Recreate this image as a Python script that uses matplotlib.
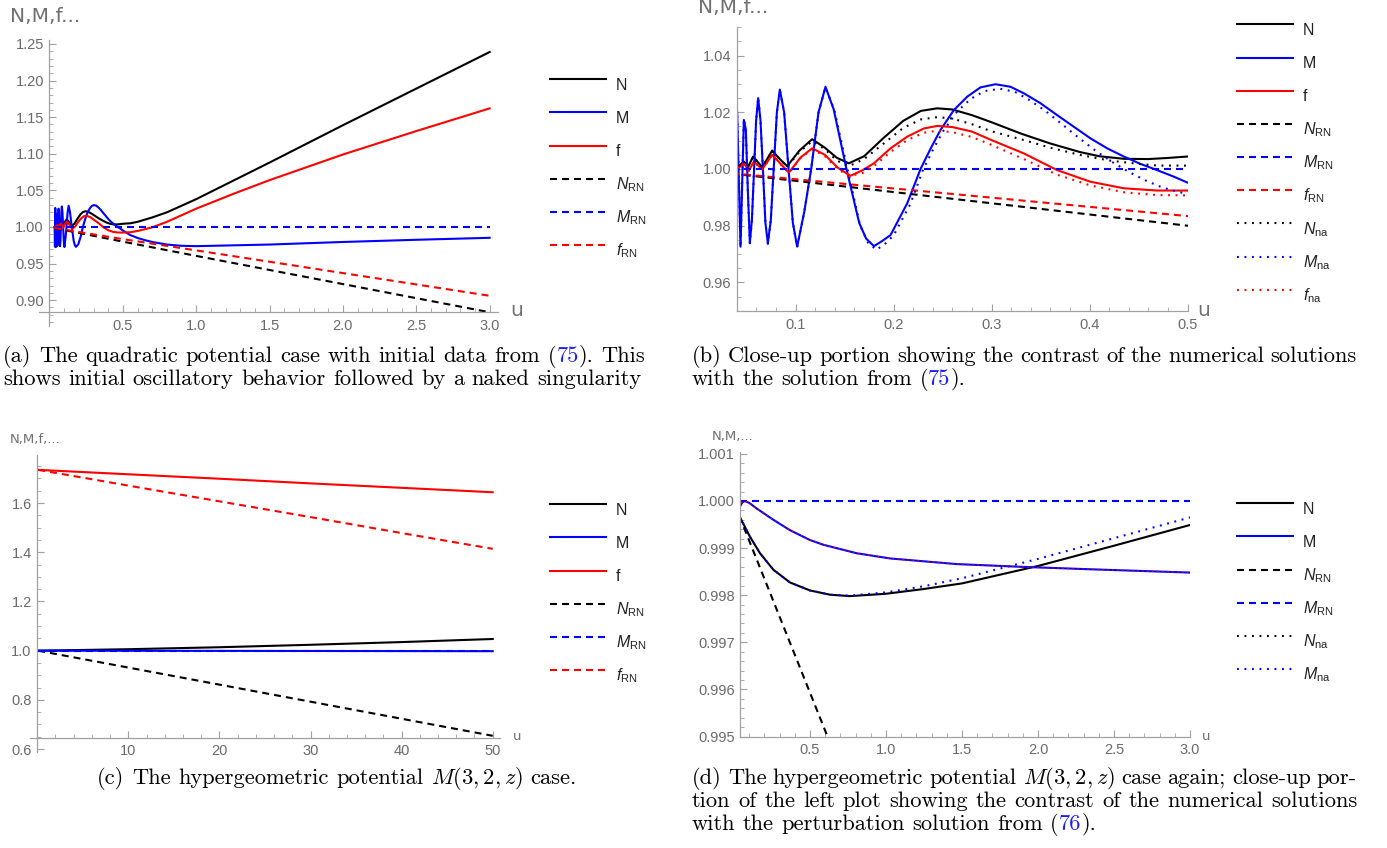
import numpy as np
import matplotlib
matplotlib.use('Agg')
import matplotlib.pyplot as plt
from matplotlib.lines import Line2D
from matplotlib.legend_handler import HandlerLine2D
from matplotlib.ticker import MultipleLocator, FormatStrFormatter

# ---------------- data: quadratic potential (panels a, b) ----------------
qN_u = [0.035, 0.0405, 0.0473, 0.0514, 0.0568, 0.066, 0.0762, 0.084, 0.0915, 0.104, 0.117, 0.13, 0.142,
        0.1544, 0.17, 0.19, 0.21, 0.228, 0.2446, 0.26, 0.28, 0.30, 0.33, 0.36, 0.39, 0.41, 0.435, 0.46,
        0.48, 0.5, 0.55, 0.6, 0.7, 0.8, 0.9, 1.0, 1.25, 1.5, 2.0, 2.5, 3.0]
qN_v = [1.0, 1.0005, 1.0026, 1.0006, 1.0044, 1.0006, 1.0065, 1.0035, 1.001, 1.0065, 1.0105, 1.0075, 1.004,
        1.002, 1.0045, 1.011, 1.017, 1.0205, 1.0214, 1.021, 1.019, 1.0165, 1.0125, 1.009, 1.006, 1.0045,
        1.0036, 1.0035, 1.0039, 1.0044, 1.005, 1.007, 1.013, 1.02, 1.029, 1.038, 1.063, 1.088, 1.139,
        1.189, 1.239]

qM_u = [0.035, 0.0372, 0.0392, 0.0405, 0.0422, 0.0439, 0.0456, 0.0473, 0.0493, 0.0513, 0.0534, 0.0555,
        0.0577, 0.0598, 0.0619, 0.0643, 0.0668, 0.0693, 0.0718, 0.0748, 0.0779, 0.0810, 0.0840, 0.0884,
        0.0928, 0.0973, 0.1017, 0.1090, 0.1160, 0.1235, 0.1306, 0.1390, 0.1520, 0.1650, 0.1720, 0.1800,
        0.1880, 0.1970, 0.2140, 0.2276, 0.2380, 0.2480, 0.2616, 0.2752, 0.2888, 0.3041, 0.3194, 0.3330,
        0.3500, 0.3670, 0.3840, 0.4010, 0.4180, 0.4350, 0.4520, 0.4690, 0.4860, 0.5000, 0.55, 0.6, 0.65,
        0.7, 0.8, 0.9, 1.0, 1.5, 2.0, 2.5, 3.0]
qM_v = [1.0, 0.973, 1.026, 1.0196, 0.996, 0.9726, 0.995, 1.0173, 1.014, 0.993, 0.9740, 0.982, 0.9995,
        1.017, 1.0250, 1.017, 0.9995, 0.981, 0.9738, 0.982, 1.001, 1.020, 1.0280, 1.020, 1.0005, 0.981,
        0.9726, 0.985, 1.000, 1.020, 1.0290, 1.021, 1.0, 0.981, 0.9755, 0.9728, 0.9745, 0.9767, 0.9879,
        1.0, 1.0073, 1.0138, 1.0208, 1.0255, 1.0288, 1.0299, 1.0290, 1.0267, 1.0232, 1.0190, 1.0149,
        1.0108, 1.0073, 1.0044, 1.0018, 0.9996, 0.9973, 0.9952, 0.989, 0.985, 0.982, 0.9795, 0.976,
        0.9743, 0.9738, 0.976, 0.9795, 0.9825, 0.9852]

qf_u = [0.035, 0.0405, 0.0473, 0.0524, 0.0575, 0.066, 0.0762, 0.0932, 0.105, 0.117, 0.13, 0.143, 0.156,
        0.168, 0.18, 0.197, 0.214, 0.231, 0.2446, 0.26, 0.28, 0.30, 0.333, 0.367, 0.401, 0.435, 0.469, 0.5,
        0.55, 0.6, 0.7, 0.8, 1.0, 1.25, 1.5, 2.0, 2.5, 3.0]
qf_v = [0.999, 1.0, 1.002, 0.9994, 1.0026, 0.9999, 1.005, 0.9987, 1.004, 1.0073, 1.005, 1.0005, 0.9976,
        0.9995, 1.002, 1.0073, 1.0114, 1.0143, 1.0152, 1.0148, 1.0132, 1.0102, 1.0055, 0.9996, 0.9955,
        0.9932, 0.9924, 0.9924, 0.9928, 0.9945, 0.9995, 1.007, 1.025, 1.045, 1.064, 1.099, 1.131, 1.162]

qNRN_u = [0.035, 0.5, 1.0, 2.0, 3.0]
qNRN_v = [0.9984, 0.980, 0.9605, 0.922, 0.8835]
qMRN_u = [0.035, 3.0]
qMRN_v = [1.0, 1.0]
qfRN_u = [0.035, 0.5, 1.0, 2.0, 3.0]
qfRN_v = [0.9985, 0.9834, 0.968, 0.937, 0.906]

qNna_u = [0.035, 0.0405, 0.0473, 0.0514, 0.0568, 0.066, 0.0762, 0.084, 0.0915, 0.104, 0.117, 0.13, 0.142,
          0.1544, 0.17, 0.19, 0.21, 0.228, 0.245, 0.26, 0.28, 0.30, 0.33, 0.36, 0.39, 0.42, 0.45, 0.47, 0.5]
qNna_v = [1.0, 1.0005, 1.0026, 1.0006, 1.0044, 1.0006, 1.0064, 1.0034, 1.0008, 1.006, 1.0098, 1.007, 1.003,
          1.001, 1.0035, 1.009, 1.0145, 1.0175, 1.0183, 1.0178, 1.0158, 1.0133, 1.0105, 1.0075, 1.005,
          1.003, 1.0018, 1.0012, 1.0012]
qMna_u = [0.035, 0.0372, 0.0392, 0.0405, 0.0422, 0.0439, 0.0456, 0.0473, 0.0493, 0.0513, 0.0534, 0.0555,
          0.0577, 0.0598, 0.0619, 0.0643, 0.0668, 0.0693, 0.0718, 0.0748, 0.0779, 0.0810, 0.0840, 0.0884,
          0.0928, 0.0973, 0.1017, 0.1090, 0.1160, 0.1235, 0.1306, 0.1395, 0.153, 0.166, 0.174, 0.1825,
          0.191, 0.2, 0.217, 0.2305, 0.241, 0.251, 0.265, 0.279, 0.293, 0.309, 0.324, 0.338, 0.355, 0.372,
          0.389, 0.406, 0.423, 0.44, 0.457, 0.474, 0.49, 0.5]
qMna_v = [1.0, 0.973, 1.026, 1.0198, 0.996, 0.9724, 0.995, 1.0176, 1.014, 0.993, 0.9738, 0.982, 0.9995,
          1.017, 1.0252, 1.017, 0.9995, 0.981, 0.9736, 0.982, 1.001, 1.020, 1.0279, 1.020, 1.0005, 0.981,
          0.9724, 0.985, 1.000, 1.020, 1.0288, 1.021, 1.0, 0.98, 0.974, 0.9715, 0.9735, 0.9765, 0.9875,
          1.0, 1.0073, 1.0135, 1.0203, 1.0248, 1.0275, 1.0283, 1.0272, 1.0245, 1.0205, 1.0158, 1.0110,
          1.0065, 1.0025, 0.999, 0.996, 0.9935, 0.992, 0.9912]
qfna_u = [0.035, 0.0405, 0.0473, 0.0524, 0.0575, 0.066, 0.0762, 0.0932, 0.105, 0.117, 0.13, 0.143, 0.1544,
          0.168, 0.18, 0.197, 0.214, 0.231, 0.2446, 0.26, 0.28, 0.30, 0.333, 0.367, 0.401, 0.435, 0.469, 0.5]
qfna_v = [0.999, 1.0, 1.002, 0.9994, 1.0026, 0.9999, 1.0049, 0.9986, 1.0038, 1.007, 1.0045, 1.0, 0.9975,
          0.9985, 1.001, 1.006, 1.0102, 1.0128, 1.0135, 1.013, 1.0113, 1.0085, 1.0035, 0.998, 0.9942,
          0.9918, 0.9908, 0.9907]

# ---------------- data: hypergeometric potential, long range (panel c) ----------------
cN_u = [0.1, 10, 20, 30, 40, 50]
cN_v = [1.0, 1.006, 1.014, 1.024, 1.035, 1.0475]
cM_u = [0.1, 50]
cM_v = [1.0, 0.998]
cf_u = [0.1, 10, 20, 30, 40, 50]
cf_v = [1.735, 1.717, 1.699, 1.68, 1.662, 1.644]
cNRN_u = [0.1, 50]
cNRN_v = [1.0, 0.654]
cMRN_u = [0.1, 50]
cMRN_v = [1.0, 1.0]
cfRN_u = [0.1, 10, 20, 30, 40, 50]
cfRN_v = [1.735, 1.671, 1.607, 1.543, 1.478, 1.414]

# ---------------- data: hypergeometric potential, close-up (panel d) ----------------
dN_u = [0.035, 0.105, 0.171, 0.259, 0.368, 0.5, 0.632, 0.763, 1.0, 1.246, 1.5, 2.0, 2.5, 3.0]
dN_v = [0.99968, 0.99924, 0.99889, 0.99854, 0.99827, 0.99810, 0.99801, 0.99798, 0.99803, 0.99813,
        0.99825, 0.99862, 0.99905, 0.99949]
dM_u = [0.035, 0.055, 0.07, 0.1, 0.149, 0.259, 0.368, 0.5, 0.588, 0.807, 1.026, 1.465, 1.904, 2.342, 3.0]
dM_v = [0.99986, 0.99997, 1.0, 0.99996, 0.99984, 0.99960, 0.99938, 0.99917, 0.99907, 0.99889, 0.99878,
        0.99866, 0.99860, 0.99855, 0.99848]
dNRN_u = [0.035, 0.62]
dNRN_v = [0.99968, 0.99496]
dMRN_u = [0.04, 3.0]
dMRN_v = [1.0, 1.0]
dNna_u = [0.035, 0.105, 0.171, 0.259, 0.368, 0.5, 0.632, 0.763, 1.0, 1.25, 1.5, 2.0, 2.5, 3.0]
dNna_v = [0.99968, 0.99924, 0.99889, 0.99854, 0.99827, 0.99810, 0.99801, 0.99799, 0.99806, 0.99819,
          0.99836, 0.99877, 0.99921, 0.99965]

# ---------------- figure ----------------
W, H = 1387, 848
plt.rcParams['font.family'] = ['Liberation Sans', 'DejaVu Sans']
plt.rcParams['mathtext.fontset'] = 'custom'
plt.rcParams['mathtext.rm'] = 'Liberation Sans'
plt.rcParams['mathtext.it'] = 'Liberation Sans:italic'
plt.rcParams['mathtext.bf'] = 'Liberation Sans:bold'

fig = plt.figure(figsize=(W / 100, H / 100), dpi=100)

AXC = '#a0a0a0'
TLC = '#6a6a6a'
LBC = '#707070'
LW = 1.5
DASH = (3.36, 2.4)
DOT = (0.9, 2.7)
BLK, BLU, RED = '#000000', '#0000ff', '#ff0000'


def px_axes(xlim, ylim, x0, x1, ytop, ybot):
    ax = fig.add_axes([x0 / W, 1 - ybot / H, (x1 - x0) / W, (ybot - ytop) / H])
    ax.set_xlim(*xlim)
    ax.set_ylim(*ylim)
    ax.patch.set_visible(False)
    return ax


def style(ax, xticks, yticks, xminor, yminor, xfmt, yfmt, left_at=None, bottom_at=None):
    for s in ['top', 'right']:
        ax.spines[s].set_visible(False)
    for s in ['left', 'bottom']:
        ax.spines[s].set_color(AXC)
        ax.spines[s].set_linewidth(0.9)
    if left_at is not None:
        ax.spines['left'].set_position(('data', left_at))
    if bottom_at is not None:
        ax.spines['bottom'].set_position(('data', bottom_at))
    ax.set_xticks(xticks)
    ax.set_yticks(yticks)
    ax.xaxis.set_minor_locator(MultipleLocator(xminor))
    ax.yaxis.set_minor_locator(MultipleLocator(yminor))
    ax.xaxis.set_major_formatter(FormatStrFormatter(xfmt))
    ax.yaxis.set_major_formatter(FormatStrFormatter(yfmt))
    ax.tick_params(which='both', direction='in', color=AXC, labelcolor=TLC, labelsize=10.5)
    ax.tick_params(which='major', length=5, width=0.8)
    ax.tick_params(which='minor', length=2.6, width=0.6)
    ax.tick_params(axis='x', pad=5)
    ax.tick_params(axis='y', pad=4)


def solid(ax, u, v, c):
    ax.plot(u, v, color=c, lw=LW, solid_joinstyle='round')


def dashed(ax, u, v, c):
    ax.plot(u, v, color=c, lw=LW, dashes=DASH)


def dotted(ax, u, v, c, lw=LW):
    ax.plot(u, v, color=c, lw=lw, dashes=DOT)


def ftext(x, y, s, **kw):
    return fig.text(x / W, 1 - y / H, s, **kw)


LBLKW = dict(color=LBC, va='baseline', family='DejaVu Sans')

# ---- panel a ----
axa = px_axes((-0.07, 3.055), (0.865, 1.255), 39.23, 497.7, 40.3, 325.8)
style(axa, [0.5, 1.0, 1.5, 2.0, 2.5, 3.0], [0.90, 0.95, 1.00, 1.05, 1.10, 1.15, 1.20, 1.25],
      0.1, 0.01, '%.1f', '%.2f', left_at=0, bottom_at=0.884)
solid(axa, qN_u, qN_v, BLK)
solid(axa, qM_u, qM_v, BLU)
solid(axa, qf_u, qf_v, RED)
dashed(axa, qNRN_u, qNRN_v, BLK)
dashed(axa, qMRN_u, qMRN_v, BLU)
dashed(axa, qfRN_u, qfRN_v, RED)
ftext(10, 22.3, 'N,M,f...', fontsize=14.5, **LBLKW)
ftext(510, 316, 'u', fontsize=14.5, **LBLKW)

# ---- panel b ----
axb = px_axes((0.04, 0.5), (0.95, 1.05), 736.7, 1187.5, 27.25, 310.75)
style(axb, [0.1, 0.2, 0.3, 0.4, 0.5], [0.96, 0.98, 1.00, 1.02, 1.04],
      0.02, 0.005, '%.1f', '%.2f')
solid(axb, qN_u, qN_v, BLK)
solid(axb, qM_u, qM_v, BLU)
solid(axb, qf_u, qf_v, RED)
dashed(axb, qNRN_u, qNRN_v, BLK)
dashed(axb, qMRN_u, qMRN_v, BLU)
dashed(axb, qfRN_u, qfRN_v, RED)
dotted(axb, qNna_u, qNna_v, BLK)
dotted(axb, qMna_u, qMna_v, BLU)
dotted(axb, qfna_u, qfna_v, RED)
ftext(698, 12.7, 'N,M,f...', fontsize=14.5, **LBLKW)
ftext(1197, 316, 'u', fontsize=14.5, **LBLKW)

# ---- panel c ----
axc = px_axes((-0.85, 50.8), (0.589, 1.795), 29.5, 500.0, 455.1, 751.8)
style(axc, [10, 20, 30, 40, 50], [0.6, 0.8, 1.0, 1.2, 1.4, 1.6],
      2, 0.05, '%d', '%.1f', left_at=0, bottom_at=0.647)
solid(axc, cN_u, cN_v, BLK)
solid(axc, cM_u, cM_v, BLU)
solid(axc, cf_u, cf_v, RED)
dashed(axc, cNRN_u, cNRN_v, BLK)
dashed(axc, cMRN_u, cMRN_v, BLU)
dashed(axc, cfRN_u, cfRN_v, RED)
ftext(10, 443, 'N,M,f,...', fontsize=9.5, **LBLKW)
ftext(513, 740, 'u', fontsize=9.5, **LBLKW)

# ---- panel d ----
axd = px_axes((0.04, 3.0), (0.995, 1.00105), 740.1, 1190.0, 451.5, 736.5)
style(axd, [0.5, 1.0, 1.5, 2.0, 2.5, 3.0], [0.995, 0.996, 0.997, 0.998, 0.999, 1.000, 1.001],
      0.1, 0.0002, '%.1f', '%.3f')
solid(axd, dN_u, dN_v, BLK)
solid(axd, dM_u, dM_v, BLU)
dashed(axd, dNRN_u, dNRN_v, BLK)
dashed(axd, dMRN_u, dMRN_v, BLU)
dotted(axd, dNna_u, dNna_v, BLU)
dotted(axd, dM_u, dM_v, RED, lw=1.0)
ftext(712, 440, 'N,M,...', fontsize=9.5, **LBLKW)
ftext(1202, 740, 'u', fontsize=9.5, **LBLKW)

# ---- legends ----
LEG_FS = 11.5


def hnd(c, kind):
    if kind == 'solid':
        return Line2D([], [], color=c, lw=LW)
    if kind == 'dash':
        return Line2D([], [], color=c, lw=LW, dashes=DASH)
    return Line2D([], [], color=c, lw=LW, dashes=DOT)


def add_legend(items, x, ytop):
    hs = [hnd(c, k) for c, k, _ in items]
    ls = [lab for _, _, lab in items]
    leg = fig.legend(hs, ls, loc='upper left', bbox_to_anchor=(x / W, 1 - ytop / H),
                     frameon=False, fontsize=LEG_FS, handlelength=3.5, handleheight=2.74,
                     labelspacing=0.05, handletextpad=0.63, borderpad=0, borderaxespad=0,
                     handler_map={Line2D: HandlerLine2D(ypad=0.59)})
    for t in leg.get_texts():
        t.set_color('#222222')
    return leg


labN, labM, labf = 'N', 'M', 'f'
labNRN, labMRN, labfRN = r'$N_{\mathrm{RN}}$', r'$M_{\mathrm{RN}}$', r'$f_{\mathrm{RN}}$'
labNna, labMna, labfna = r'$N_{\mathrm{na}}$', r'$M_{\mathrm{na}}$', r'$f_{\mathrm{na}}$'

add_legend([(BLK, 'solid', labN), (BLU, 'solid', labM), (RED, 'solid', labf),
            (BLK, 'dash', labNRN), (BLU, 'dash', labMRN), (RED, 'dash', labfRN)], 550, 68.75)
add_legend([(BLK, 'solid', labN), (BLU, 'solid', labM), (RED, 'solid', labf),
            (BLK, 'dash', labNRN), (BLU, 'dash', labMRN), (RED, 'dash', labfRN),
            (BLK, 'dot', labNna), (BLU, 'dot', labMna), (RED, 'dot', labfna)], 1237, 14)
add_legend([(BLK, 'solid', labN), (BLU, 'solid', labM), (RED, 'solid', labf),
            (BLK, 'dash', labNRN), (BLU, 'dash', labMRN), (RED, 'dash', labfRN)], 550, 493.75)
add_legend([(BLK, 'solid', labN), (BLU, 'solid', labM),
            (BLK, 'dash', labNRN), (BLU, 'dash', labMRN),
            (BLK, 'dot', labNna), (BLU, 'dot', labMna)], 1237, 492.75)

# ---- captions ----
CAP_FS = 16.2
CAPKW = dict(fontsize=CAP_FS, family='cmr10', math_fontfamily='cm')
renderer = fig.canvas.get_renderer()
_cache = {}


def meas(s):
    if s not in _cache:
        t = fig.text(0, 0, s, **CAPKW)
        _cache[s] = t.get_window_extent(renderer).width
        t.remove()
    return _cache[s]


SPACE = 0.333 * CAP_FS * 100 / 72
K = '#000000'
REF = '#1a1aff'


def words(line):
    return [[(w, K)] for w in line.split()]


def draw_line(wl, x0, y, x1=None, align='left'):
    ws = [sum(meas(s) for s, c in w) for w in wl]
    total = sum(ws)
    if align == 'justify':
        gap = (x1 - x0 - total) / (len(wl) - 1)
        x = x0
    else:
        gap = SPACE
        lw = total + gap * (len(wl) - 1)
        x = x0 if align == 'left' else x0 - lw / 2
    for w, wlen in zip(wl, ws):
        xx = x
        for s, c in w:
            ftext(xx, y, s, color=c, ha='left', va='baseline', **CAPKW)
            xx += meas(s)
        x += wlen + gap


ref75 = [('(', K), ('75', REF), (').', K)]
ref76 = [('(', K), ('76', REF), (').', K)]

la1 = words('(a) The quadratic potential case with initial data from') + [ref75] + words('This')
draw_line(la1, 3, 362, 645, 'justify')
draw_line(words('shows initial oscillatory behavior followed by a naked singularity'), 3, 385)

draw_line(words('(b) Close-up portion showing the contrast of the numerical solutions'), 692, 362, 1357, 'justify')
draw_line(words('with the solution from') + [ref75], 692, 385)

draw_line(words('(c) The hypergeometric potential') + [[('$M(3,2,z)$', K)]] + words('case.'), 337, 784, align='center')

draw_line(words('(d) The hypergeometric potential') + [[('$M(3,2,z)$', K)]] + words('case again; close-up por-'),
          692, 784, 1357, 'justify')
draw_line(words('tion of the left plot showing the contrast of the numerical solutions'), 692, 807, 1357, 'justify')
draw_line(words('with the perturbation solution from') + [ref76], 692, 830)

fig.savefig('out.png', dpi=100)
